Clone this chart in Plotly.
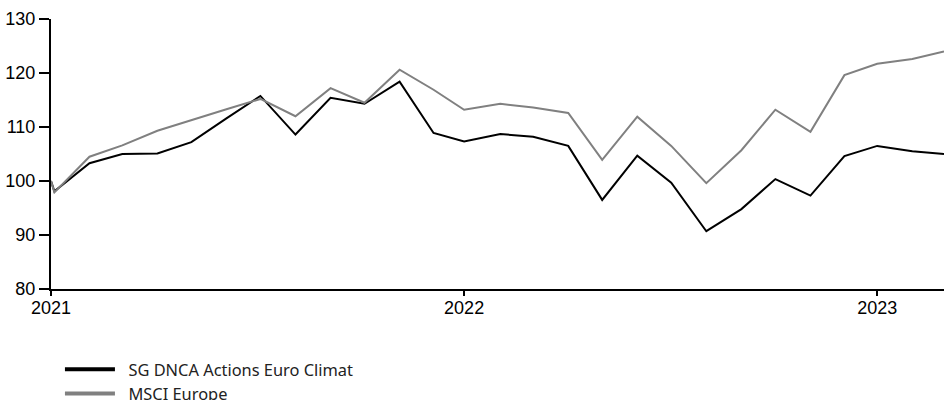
import plotly.graph_objects as go

dates = [
    "2021-01-01", "2021-01-04", "2021-02-04", "2021-03-05", "2021-04-05", "2021-05-05",
    "2021-06-05", "2021-07-05", "2021-08-05", "2021-09-05", "2021-10-05", "2021-11-05",
    "2021-12-05", "2022-01-01", "2022-02-02", "2022-03-03", "2022-04-03", "2022-05-03",
    "2022-06-03", "2022-07-03", "2022-08-03", "2022-09-03", "2022-10-03", "2022-11-03",
    "2022-12-03", "2023-01-01", "2023-02-01", "2023-03-01",
]
fund = [
    100.0, 98.1, 103.3, 105.0, 105.1, 107.2,
    111.6, 115.75, 108.6, 115.4, 114.3, 118.4,
    108.9, 107.3, 108.7, 108.2, 106.5, 96.5,
    104.7, 99.7, 90.7, 94.8, 100.35, 97.3,
    104.6, 106.5, 105.5, 105.0,
]
index = [
    100.0, 97.9, 104.5, 106.6, 109.3, 111.3,
    113.3, 115.2, 112.0, 117.2, 114.5, 120.6,
    116.9, 113.2, 114.3, 113.6, 112.6, 103.9,
    111.9, 106.5, 99.6, 105.7, 113.2, 109.1,
    119.6, 121.7, 122.6, 124.0,
]
series_names = ["SG DNCA Actions Euro Climat", "MSCI Europe"]
series_colors = ["#000000", "#808080"]
x_range = ["2021-01-01", "2023-03-01"]
y_range = [80, 130]

fig = go.Figure()
for name, vals, col in zip(series_names, [fund, index], series_colors):
    fig.add_trace(go.Scatter(x=dates, y=vals, mode="lines", name=name,
                             line=dict(color=col, width=2), showlegend=False,
                             hoverinfo="skip"))
# legend-only entries (thicker legend symbols)
for name, col in zip(series_names, series_colors):
    fig.add_trace(go.Scatter(x=[None], y=[None], mode="lines",
                             name="\u00a0\u00a0" + name,
                             line=dict(color=col, width=4), showlegend=True))

fig.update_layout(
    width=944, height=400,
    margin=dict(l=51, r=0, t=19, b=111, autoexpand=False),
    paper_bgcolor="white", plot_bgcolor="white",
    font=dict(family="Liberation Sans, Arial, sans-serif", size=18, color="#000"),
    showlegend=True,
    legend=dict(orientation="v", xref="container", yref="container",
                x=0.0635, xanchor="left", y=0.12, yanchor="top",
                font=dict(family="Noto Sans, sans-serif", size=16.4, color="#222"),
                itemwidth=50, tracegroupgap=0, bgcolor="rgba(0,0,0,0)"),
)
fig.update_xaxes(
    type="date", range=x_range, dtick="M12", tick0="2021-01-01", tickformat="%Y",
    showgrid=False, zeroline=False, showline=True, linecolor="#000", linewidth=2,
    ticks="outside", ticklen=5, tickwidth=1.5, tickcolor="#000",
    tickfont=dict(size=18), fixedrange=True, automargin=False,
    ticklabelstandoff=-4,
)
fig.update_yaxes(
    range=y_range, dtick=10, tick0=80,
    showgrid=False, zeroline=False, showline=True, linecolor="#000", linewidth=2,
    ticks="outside", ticklen=10, tickwidth=1.5, tickcolor="#000",
    tickfont=dict(size=18), fixedrange=True, automargin=False,
)

fig.write_html(
    "out.html",
    config={"displayModeBar": False, "responsive": False},
    post_script="document.body.style.margin='0';document.body.style.overflow='hidden';",
)
